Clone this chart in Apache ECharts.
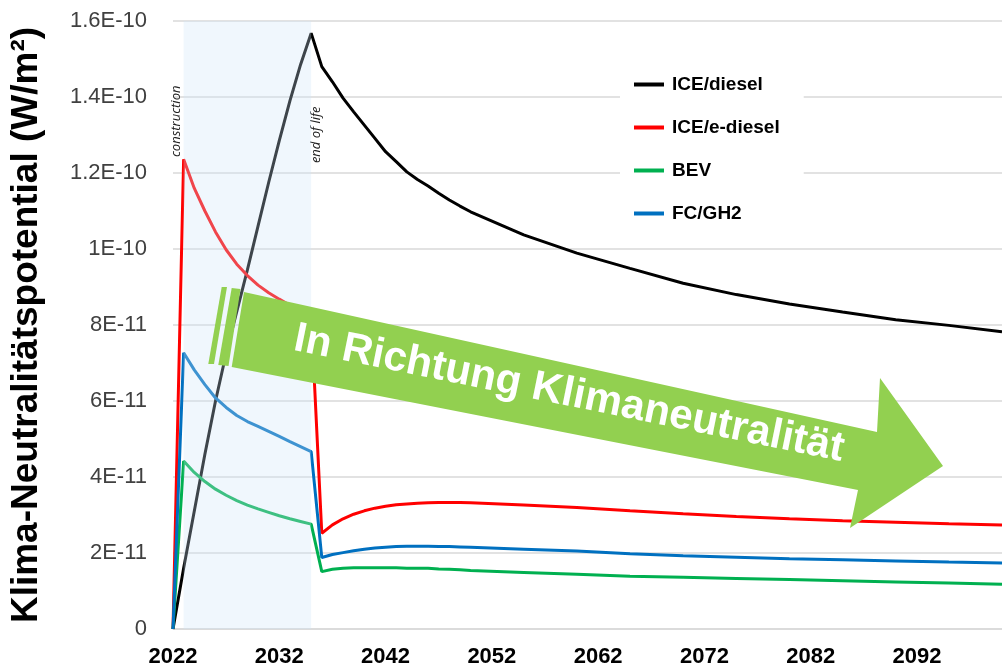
<!DOCTYPE html>
<html>
<head>
<meta charset="utf-8">
<script src="https://cdn.jsdelivr.net/npm/echarts@6/dist/echarts.min.js"></script>
<style>
html,body{margin:0;padding:0;background:#fff;}
#chart{width:1002px;height:668px;}
</style>
</head>
<body>
<div id="chart"></div>
<script>
// Jahre (jährlich bis 2050, danach alle 5 Jahre)
var years = [2022,2023,2024,2025,2026,2027,2028,2029,2030,2031,2032,2033,2034,2035,
	2036,2037,2038,2039,2040,2041,2042,2043,2044,2045,2046,2047,2048,2049,2050,
	2055,2060,2065,2070,2075,2080,2085,2090,2095,2100];

// Werte in Einheiten von 1E-11 W/m²
var iceDiesel = [0,1.6,3.1,4.6,6.0,7.25,8.35,9.45,10.6,11.75,12.85,13.9,14.85,15.68,
	14.8,14.4,13.97,13.61,13.26,12.91,12.56,12.3,12.03,11.83,11.66,11.47,11.29,11.13,10.98,
	10.37,9.89,9.49,9.1,8.8,8.55,8.34,8.14,7.99,7.82];
var iceEDiesel = [0,12.36,11.6,11.0,10.45,9.98,9.6,9.3,9.05,8.85,8.68,8.52,8.38,8.25,
	2.52,2.74,2.9,3.02,3.11,3.18,3.23,3.27,3.29,3.31,3.32,3.33,3.33,3.33,3.32,
	3.26,3.2,3.11,3.03,2.96,2.9,2.85,2.81,2.77,2.74];
var bev = [0,4.42,4.12,3.88,3.68,3.52,3.38,3.26,3.16,3.07,2.98,2.9,2.83,2.76,
	1.51,1.57,1.6,1.61,1.61,1.61,1.61,1.61,1.6,1.6,1.6,1.58,1.57,1.56,1.54,
	1.49,1.44,1.39,1.36,1.33,1.3,1.27,1.24,1.21,1.18];
var fcGh2 = [0,7.27,6.82,6.43,6.08,5.83,5.62,5.46,5.33,5.2,5.07,4.93,4.8,4.67,
	1.88,1.96,2.01,2.06,2.1,2.13,2.15,2.17,2.18,2.18,2.18,2.17,2.17,2.16,2.15,
	2.1,2.05,1.98,1.93,1.89,1.85,1.82,1.79,1.76,1.74];

var seriesNames = ['ICE/diesel','ICE/e-diesel','BEV','FC/GH2'];
var seriesColors = ['#000000','#ff0000','#00b050','#0070c0'];
var seriesValues = [iceDiesel, iceEDiesel, bev, fcGh2];

// Bauphase bis Lebensende
var phaseYears = [2023, 2035];
var phaseLabels = ['construction', 'end of life'];
var phaseLabelPos = [[2022.3, 12.42], [2035.45, 12.26]];

var fontFam = '"Liberation Sans", Arial, sans-serif';

function sci(v){
	if(v === 0) return '0';
	var exp = -11, m = v;
	if(v >= 10){ m = v / 10; exp = -10; }
	return (Math.round(m * 10) / 10) + 'E' + exp;
}

function pairs(vals){
	var out = [];
	for(var i=0;i<years.length;i++){
		out.push([years[i], vals[i]]);
	}
	return out;
}

var series = [];
for(var i=0;i<seriesNames.length;i++){
	series.push({
		name: seriesNames[i],
		type: 'line',
		data: pairs(seriesValues[i]),
		symbol: 'none',
		showSymbol: false,
		z: 2,
		lineStyle: {width: 3, color: seriesColors[i]},
		itemStyle: {color: seriesColors[i]}
	});
}
// Schattierung über den Linien + Beschriftung
series[0].markArea = {
	silent: true,
	z: 10,
	itemStyle: {color: 'rgba(205,229,247,0.3)'},
	data: [[{xAxis: phaseYears[0]}, {xAxis: phaseYears[1]}]]
};
series[1].markPoint = {
	silent: true,
	symbol: 'circle',
	symbolSize: 0,
	label: {
		show: true,
		position: 'inside',
		rotate: 90,
		align: 'left',
		verticalAlign: 'middle',
		formatter: '{b}',
		fontFamily: '"Open Sans", sans-serif',
		fontStyle: 'italic',
		fontSize: 13,
		color: '#222'
	},
	data: [
		{name: phaseLabels[0], coord: phaseLabelPos[0]},
		{name: phaseLabels[1], coord: phaseLabelPos[1]}
	]
};

var chart = echarts.init(document.getElementById('chart'));
chart.setOption({
	animation: false,
	backgroundColor: '#fff',
	textStyle: {fontFamily: fontFam},
	grid: {left: 173, right: 0, top: 21, bottom: 39, containLabel: false, outerBoundsMode: 'none'},
	legend: {
		data: seriesNames,
		orient: 'vertical',
		left: 620,
		top: 65,
		padding: [10, 24, 10, 14],
		backgroundColor: '#fff',
		itemGap: 24,
		itemWidth: 30,
		itemHeight: 4,
		icon: 'rect',
		textStyle: {fontSize: 19, fontWeight: 'bold', color: '#000', fontFamily: fontFam, padding: [0, 0, 0, 3]}
	},
	xAxis: {
		type: 'value',
		min: 2022,
		max: 2100,
		interval: 10,
		axisLine: {show: true, lineStyle: {color: '#d9d9d9', width: 1.5}},
		axisTick: {show: false},
		splitLine: {show: false},
		axisLabel: {
			showMaxLabel: false,
			fontSize: 22,
			fontWeight: 'bold',
			color: '#000',
			margin: 17,
			formatter: function(v){ return String(v); }
		}
	},
	yAxis: {
		type: 'value',
		min: 0,
		max: 16,
		interval: 2,
		name: 'Klima-Neutralitätspotential (W/m²)',
		nameLocation: 'middle',
		nameRotate: 90,
		nameGap: 128,
		nameTextStyle: {fontSize: 37, fontWeight: 'bold', color: '#000', fontFamily: fontFam},
		axisLine: {show: false},
		axisTick: {show: false},
		splitLine: {lineStyle: {color: '#d9d9d9', width: 1.5}},
		axisLabel: {formatter: sci, fontSize: 22, color: '#404040', margin: 26}
	},
	series: series,
	graphic: [
		{type: 'polygon', z: 100, shape: {points: [[221.7,287],[227,287],[214,364],[208.3,364]]}, style: {fill: '#92d050'}},
		{type: 'polygon', z: 100, shape: {points: [[231.7,288],[240.5,289],[228.5,366],[218.3,365]]}, style: {fill: '#92d050'}},
		{type: 'polygon', z: 100, shape: {points: [[244,292],[877,432],[880,378],[943,466],[850,528],[858,490],[231.7,367]]}, style: {fill: '#92d050'}},
		{type: 'text', z: 101, x: 569, y: 394, rotation: -0.2,
			style: {text: 'In Richtung Klimaneutralität', fill: '#fff', fontSize: 42, fontWeight: 'bold', fontFamily: fontFam, align: 'center', verticalAlign: 'middle'}}
	]
});
</script>
</body>
</html>
